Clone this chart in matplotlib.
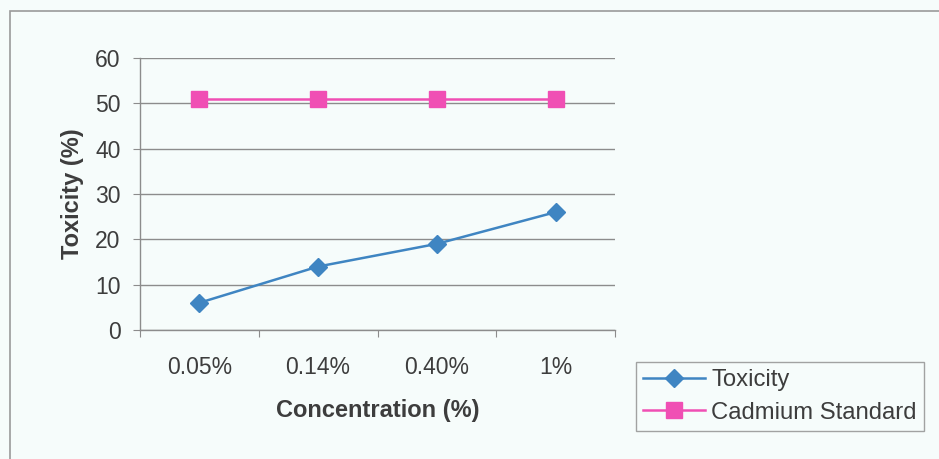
import numpy as np
import matplotlib
matplotlib.use("Agg")
import matplotlib.pyplot as plt
from matplotlib.patches import Rectangle

plt.rcParams['font.family'] = ['Liberation Sans', 'DejaVu Sans']

# Data
concentrations = ['0.05%', '0.14%', '0.40%', '1%']
toxicity = [6, 14, 19, 26]
cadmium_standard = [51, 51, 51, 51]

text_col = '#3d3d3d'
grid_col = '#8c8c8c'
bg_col = '#f6fcfb'

fig = plt.figure(figsize=(9.39, 4.59), dpi=100)
fig.patch.set_facecolor(bg_col)

# outer chart frame (runs off the right and bottom edges)
fig.patches.append(Rectangle((10 / 939, -0.05), 0.99, 1 - 11 / 459 + 0.05,
                             transform=fig.transFigure, fill=False,
                             edgecolor='#9a9a9a', linewidth=1.2))

ax = fig.add_axes([140 / 939, 1 - 330 / 459, 475 / 939, 272 / 459])
ax.set_facecolor('none')

x = np.arange(len(concentrations))
ax.plot(x, toxicity, color='#3f85c2', linewidth=1.8, marker='D',
        markersize=9.5, label='Toxicity', zorder=3)
ax.plot(x, cadmium_standard, color='#f04fb4', linewidth=1.8, marker='s',
        markersize=11.5, label='Cadmium Standard', zorder=3)

ax.set_xlim(-0.5, len(concentrations) - 0.5)
ax.set_ylim(0, 60)
ax.set_yticks(range(0, 61, 10))
ax.yaxis.grid(True, color=grid_col, linewidth=1.0)
ax.set_axisbelow(True)

# category ticks sit between the categories
ax.set_xticks(np.arange(-0.5, len(concentrations)), minor=False)
ax.set_xticklabels([])
ax.set_xticks(x, minor=True)
ax.set_xticklabels(concentrations, minor=True)
ax.tick_params(axis='x', which='major', length=5, color=grid_col, direction='out')
ax.tick_params(axis='x', which='minor', length=0, pad=19, labelsize=16.5,
               labelcolor=text_col)
ax.tick_params(axis='y', length=5, color=grid_col, pad=9, labelsize=16.5,
               labelcolor=text_col)

for side in ['top', 'right']:
    ax.spines[side].set_visible(False)
for side in ['left', 'bottom']:
    ax.spines[side].set_color(grid_col)
    ax.spines[side].set_linewidth(1.0)

ax.set_ylabel('Toxicity (%)', fontsize=17, fontweight='bold', color=text_col,
              labelpad=8)
ax.set_xlabel('Concentration (%)', fontsize=17, fontweight='bold',
              color=text_col, labelpad=14)

leg = fig.legend(loc='lower left', bbox_to_anchor=(636 / 939, 1 - 431 / 459),
                 fontsize=17.2, frameon=True, fancybox=False, handlelength=2.6,
                 handletextpad=0.25, borderpad=0.3, labelspacing=0.45,
                 borderaxespad=0, labelcolor=text_col)
leg.get_frame().set_edgecolor('#8c8c8c')
leg.get_frame().set_facecolor(bg_col)
leg.get_frame().set_linewidth(1.0)

fig.savefig('out.png', dpi=100, facecolor=fig.get_facecolor())
